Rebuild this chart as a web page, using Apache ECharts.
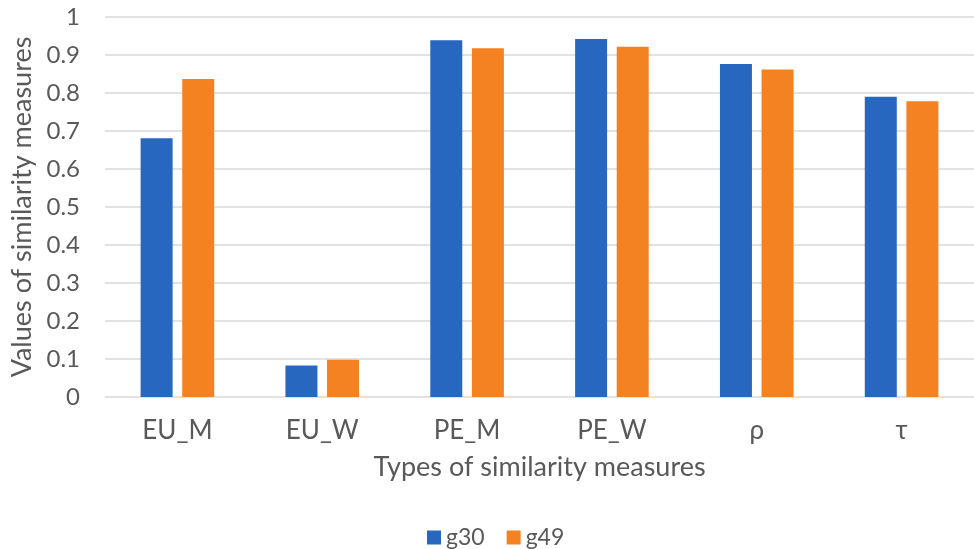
<!DOCTYPE html>
<html>
<head>
<meta charset="utf-8">
<script src="https://cdn.jsdelivr.net/npm/echarts@6/dist/echarts.min.js"></script>
<style>html,body{margin:0;padding:0;background:#fff}#c{width:974px;height:549px}</style>
</head>
<body>
<div id="c"></div>
<script>
const categories = ['EU_M', 'EU_W', 'PE_M', 'PE_W', 'ρ', 'τ'];
const g30 = [0.681, 0.083, 0.939, 0.942, 0.876, 0.790];
const g49 = [0.837, 0.098, 0.918, 0.922, 0.862, 0.778];
const yTicks = [0, 0.1, 0.2, 0.3, 0.4, 0.5, 0.6, 0.7, 0.8, 0.9, 1];

const font = 'Lato, "Open Sans", sans-serif';
const grey = '#595959';
const chart = echarts.init(document.getElementById('c'));
chart.setOption({
  animation: false,
  textStyle: { fontFamily: font },
  legend: {
    bottom: -5, left: 422,
    itemWidth: 14, itemHeight: 14, itemGap: 22,
    icon: 'rect',
    textStyle: { fontSize: 23, color: grey, fontFamily: font },
    data: ['g30', 'g49']
  },
  grid: { left: 105, right: -7, top: 17, bottom: 152 },
  xAxis: {
    type: 'category', data: categories,
    name: 'Types of similarity measures', nameLocation: 'middle', nameGap: 57,
    nameTextStyle: { fontSize: 27, color: grey, fontFamily: font },
    axisLine: { show: false }, axisTick: { show: false },
    axisLabel: { fontSize: 26, color: grey, margin: 21, fontFamily: font }
  },
  yAxis: {
    type: 'value', min: 0, max: 1, interval: 0.1,
    name: 'Values of similarity measures', nameLocation: 'middle', nameGap: 63,
    nameTextStyle: { fontSize: 27, color: grey, fontFamily: font },
    axisLabel: {
      fontSize: 24, color: grey, margin: 25, fontFamily: font,
      formatter: v => { const t = yTicks.find(x => Math.abs(x - v) < 1e-9); return t === undefined ? '' : String(t); }
    },
    splitLine: { lineStyle: { color: '#d9d9d9', width: 1.5 } },
    axisLine: { show: false }, axisTick: { show: false }
  },
  series: [
    { name: 'g30', type: 'bar', data: g30, barWidth: 32, barGap: '30%', itemStyle: { color: '#2767c0' } },
    { name: 'g49', type: 'bar', data: g49, barWidth: 32, itemStyle: { color: '#f58220' } }
  ]
});
</script>
</body>
</html>
